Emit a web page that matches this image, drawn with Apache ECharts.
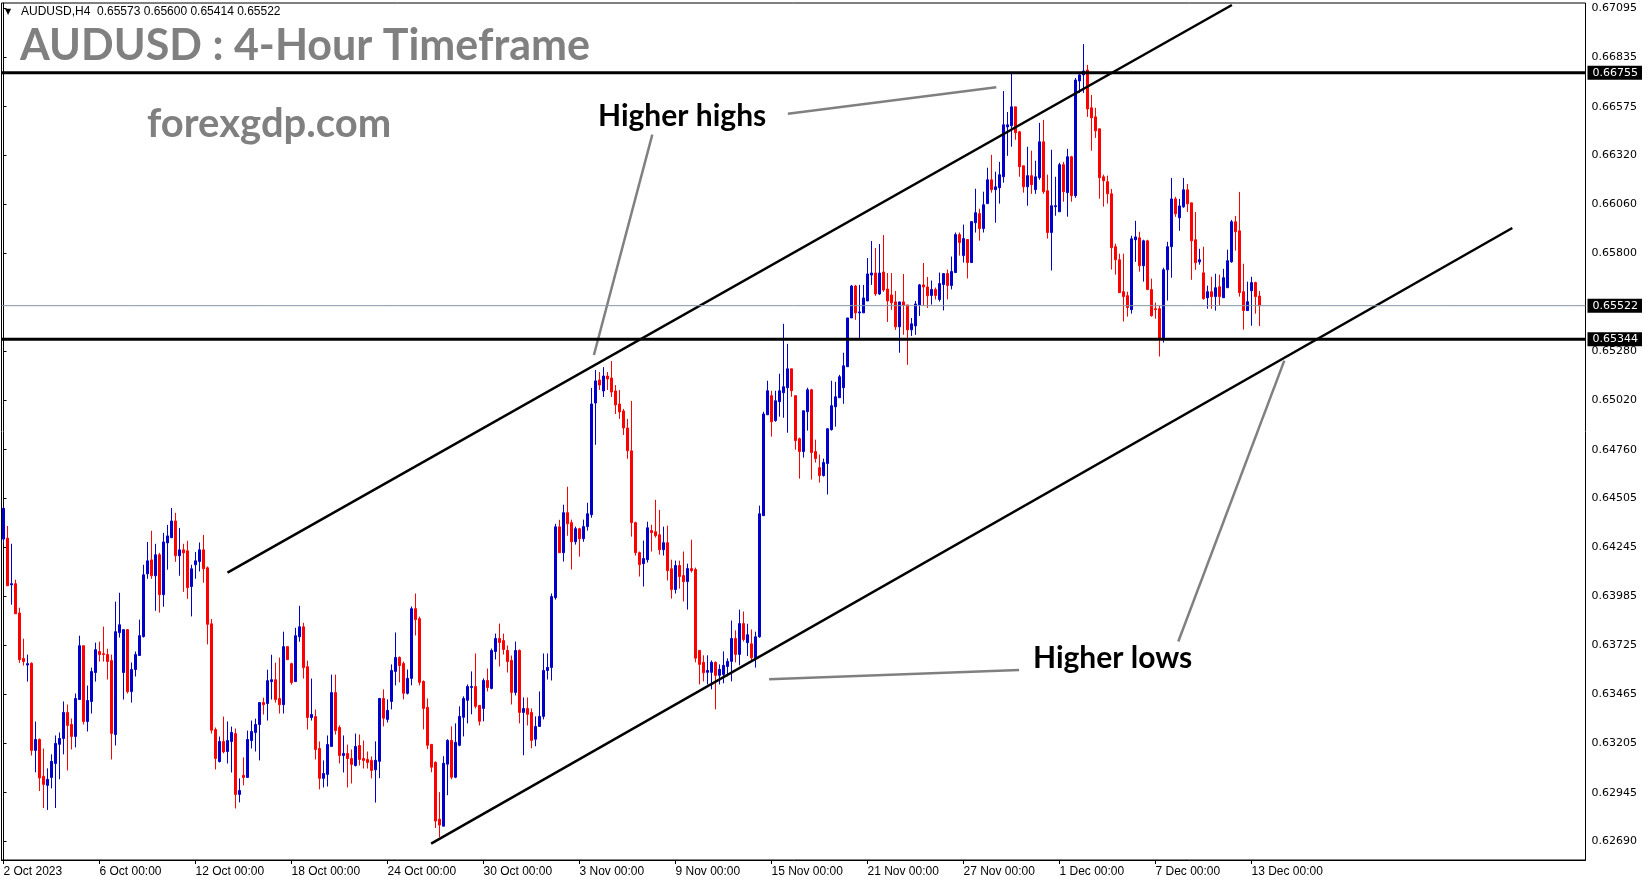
<!DOCTYPE html>
<html><head><meta charset="utf-8">
<script src="https://cdn.jsdelivr.net/npm/echarts@6/dist/echarts.min.js"></script>
<style>html,body{margin:0;padding:0;background:#fff}#c{width:1649px;height:884px}</style>
</head><body><div id="c"></div>
<script>
// ---- Data (one entry per 4-hour candle, 2 Oct 2023 00:00 .. 13 Dec 2023 08:00)
const openP = [
0.64287,0.64292,0.64045,0.64051,0.63896,0.63655,0.63621,0.63630,0.63169,0.63227,
0.63032,0.62984,0.63026,0.63100,0.63201,0.63232,0.63370,0.63306,0.63243,0.63438,
0.63723,0.63322,0.63428,0.63581,0.63692,0.63681,0.63676,0.63644,0.63253,0.63792,
0.63581,0.63808,0.63480,0.63597,0.63671,0.63771,0.64103,0.64177,0.64093,0.64204,
0.63993,0.64267,0.64294,0.64383,0.64199,0.64230,0.64225,0.64036,0.64151,0.64168,
0.64230,0.64135,0.63839,0.63279,0.63110,0.63216,0.63163,0.63216,0.63258,0.62936,
0.63037,0.63026,0.63221,0.63264,0.63306,0.63422,0.63417,0.63533,0.63543,0.63443,
0.63411,0.63718,0.63628,0.63533,0.63770,0.63823,0.63612,0.63343,0.63348,0.63179,
0.63021,0.63042,0.63190,0.63475,0.63290,0.63142,0.63153,0.63126,0.63089,0.63195,
0.63126,0.63121,0.63116,0.63066,0.63111,0.63444,0.63333,0.63428,0.63587,0.63661,
0.63629,0.63471,0.63550,0.63919,0.63866,0.63534,0.63397,0.63201,0.63106,0.62805,
0.62768,0.63096,0.63222,0.63027,0.63196,0.63344,0.63434,0.63502,0.63507,0.63407,
0.63391,0.63539,0.63497,0.63692,0.63761,0.63750,0.63698,0.63645,0.63476,0.63698,
0.63370,0.63391,0.63370,0.63228,0.63296,0.63349,0.63592,0.63608,0.63977,0.64352,
0.64215,0.64427,0.64374,0.64273,0.64342,0.64289,0.64353,0.64416,0.65007,0.65129,
0.65071,0.65150,0.65139,0.65071,0.65002,0.64965,0.64875,0.64754,0.64374,0.64215,
0.64157,0.64178,0.64332,0.64326,0.64310,0.64231,0.64268,0.64130,0.64020,0.64147,
0.64094,0.64062,0.64131,0.64126,0.63698,0.63635,0.63582,0.63582,0.63635,0.63566,
0.63571,0.63613,0.63640,0.63761,0.63677,0.63840,0.63739,0.63733,0.63659,0.63770,
0.64411,0.64945,0.65046,0.64914,0.65014,0.65061,0.65088,0.65188,0.65046,0.64818,
0.64750,0.64961,0.65077,0.64750,0.64665,0.64623,0.64687,0.64866,0.64987,0.65035,
0.65088,0.65199,0.65457,0.65626,0.65484,0.65484,0.65547,0.65684,0.65695,0.65584,
0.65700,0.65610,0.65579,0.65542,0.65410,0.65542,0.65526,0.65394,0.65415,0.65526,
0.65632,0.65621,0.65576,0.65608,0.65555,0.65634,0.65692,0.65629,0.65697,0.65898,
0.65787,0.65872,0.65750,0.65961,0.66009,0.65930,0.66062,0.66188,0.66136,0.66146,
0.66204,0.66468,0.66474,0.66574,0.66442,0.66262,0.66151,0.66210,0.66136,0.66199,
0.66389,0.66130,0.65909,0.66046,0.66019,0.66268,0.66120,0.66310,0.66104,0.66711,
0.66743,0.66769,0.66569,0.66521,0.66458,0.66204,0.66178,0.66114,0.65834,0.65765,
0.65596,0.65575,0.65501,0.65871,0.65881,0.65733,0.65865,0.65607,0.65506,0.65506,
0.65348,0.65712,0.65834,0.66087,0.65987,0.66045,0.66135,0.66066,0.65871,0.65754,
0.65696,0.65564,0.65596,0.65570,0.65622,0.65564,0.65617,0.65754,0.65966,0.65918,
0.65596,0.65496,0.65601,0.65644,0.65573];
const highP = [
0.64459,0.64357,0.64262,0.64072,0.63924,0.63760,0.63676,0.63635,0.63322,0.63232,
0.63179,0.63074,0.63148,0.63248,0.63264,0.63428,0.63412,0.63338,0.63470,0.63776,
0.63723,0.63512,0.63607,0.63739,0.63744,0.63824,0.63707,0.63676,0.63956,0.64003,
0.63808,0.63811,0.63634,0.63692,0.63861,0.64151,0.64272,0.64331,0.64262,0.64214,
0.64320,0.64362,0.64452,0.64426,0.64346,0.64262,0.64278,0.64151,0.64219,0.64269,
0.64309,0.64142,0.63864,0.63290,0.63242,0.63348,0.63322,0.63295,0.63285,0.63021,
0.63132,0.63274,0.63327,0.63337,0.63422,0.63448,0.63596,0.63675,0.63633,0.63660,
0.63797,0.63718,0.63633,0.63818,0.63934,0.63844,0.63644,0.63549,0.63385,0.63216,
0.63116,0.63248,0.63570,0.63570,0.63301,0.63248,0.63200,0.63174,0.63258,0.63253,
0.63221,0.63163,0.63137,0.63217,0.63444,0.63492,0.63439,0.63624,0.63793,0.63666,
0.63639,0.63597,0.63930,0.63999,0.63877,0.63539,0.63444,0.63201,0.63111,0.62948,
0.63138,0.63228,0.63296,0.63312,0.63402,0.63455,0.63518,0.63587,0.63682,0.63407,
0.63550,0.63602,0.63708,0.63787,0.63840,0.63787,0.63724,0.63671,0.63745,0.63703,
0.63449,0.63449,0.63391,0.63349,0.63481,0.63682,0.63682,0.63999,0.64368,0.64389,
0.64469,0.64564,0.64390,0.64353,0.64347,0.64390,0.64479,0.65087,0.65182,0.65171,
0.65197,0.65171,0.65229,0.65102,0.65076,0.64976,0.64923,0.65018,0.64379,0.64221,
0.64279,0.64379,0.64363,0.64495,0.64442,0.64353,0.64358,0.64178,0.64173,0.64173,
0.64221,0.64157,0.64284,0.64136,0.63698,0.63672,0.63672,0.63645,0.63640,0.63624,
0.63693,0.63656,0.63856,0.63804,0.63914,0.63904,0.63839,0.63809,0.63797,0.64464,
0.64961,0.65125,0.65072,0.65072,0.65162,0.65426,0.65320,0.65188,0.65046,0.64824,
0.64966,0.65088,0.65082,0.64813,0.64734,0.64713,0.64871,0.65125,0.65119,0.65156,
0.65273,0.65457,0.65632,0.65632,0.65632,0.65632,0.65774,0.65864,0.65827,0.65848,
0.65896,0.65695,0.65695,0.65600,0.65542,0.65690,0.65526,0.65457,0.65547,0.65637,
0.65748,0.65674,0.65655,0.65618,0.65697,0.65692,0.65713,0.65782,0.65909,0.65909,
0.65951,0.65872,0.65967,0.66141,0.66035,0.66125,0.66252,0.66320,0.66231,0.66283,
0.66658,0.66547,0.66748,0.66574,0.66447,0.66262,0.66363,0.66342,0.66289,0.66489,
0.66505,0.66215,0.66347,0.66204,0.66278,0.66283,0.66352,0.66315,0.66727,0.66753,
0.66906,0.66796,0.66637,0.66569,0.66458,0.66215,0.66210,0.66140,0.65850,0.65797,
0.65797,0.65596,0.65892,0.65971,0.65913,0.65871,0.65871,0.65665,0.65538,0.65522,
0.65723,0.65860,0.66198,0.66098,0.66087,0.66198,0.66166,0.66066,0.66018,0.65823,
0.65834,0.65628,0.65675,0.65691,0.65686,0.65717,0.65818,0.65976,0.65997,0.66124,
0.65744,0.65649,0.65675,0.65649,0.65600];
const lowP = [
0.64265,0.64040,0.63940,0.63892,0.63632,0.63618,0.63533,0.63142,0.63053,0.62954,
0.62864,0.62854,0.62968,0.62864,0.63016,0.63148,0.63063,0.63174,0.63185,0.63438,
0.63306,0.63269,0.63364,0.63533,0.63639,0.63639,0.63544,0.63121,0.63195,0.63766,
0.63438,0.63470,0.63422,0.63560,0.63671,0.63766,0.64077,0.64077,0.63908,0.63898,
0.63929,0.64125,0.64294,0.64167,0.64093,0.64008,0.63971,0.63878,0.64077,0.64116,
0.64056,0.63730,0.63258,0.63068,0.63105,0.63153,0.63100,0.63052,0.62862,0.62894,
0.62984,0.63026,0.63179,0.63163,0.63116,0.63359,0.63327,0.63438,0.63422,0.63364,
0.63364,0.63649,0.63517,0.63533,0.63744,0.63549,0.63279,0.63327,0.63121,0.62963,
0.62973,0.62978,0.63190,0.63253,0.63100,0.63052,0.62973,0.62994,0.63084,0.63089,
0.63073,0.63073,0.63021,0.62893,0.63022,0.63296,0.63317,0.63386,0.63513,0.63529,
0.63439,0.63465,0.63513,0.63777,0.63513,0.63280,0.63175,0.63053,0.62758,0.62710,
0.62768,0.62932,0.63016,0.63022,0.63191,0.63243,0.63312,0.63360,0.63391,0.63301,
0.63323,0.63481,0.63492,0.63650,0.63613,0.63676,0.63581,0.63412,0.63460,0.63312,
0.63143,0.63301,0.63180,0.63191,0.63296,0.63333,0.63544,0.63539,0.63967,0.64215,
0.64168,0.64305,0.64126,0.64258,0.64194,0.64273,0.64332,0.64400,0.64786,0.65076,
0.65039,0.65076,0.65039,0.64949,0.64923,0.64838,0.64712,0.64300,0.64200,0.64089,
0.64036,0.64163,0.64221,0.64295,0.64205,0.64200,0.64068,0.63972,0.63999,0.64025,
0.63957,0.63914,0.64110,0.63635,0.63518,0.63534,0.63518,0.63492,0.63386,0.63518,
0.63524,0.63561,0.63534,0.63635,0.63619,0.63745,0.63668,0.63642,0.63607,0.63765,
0.64411,0.64945,0.64829,0.64908,0.64935,0.64929,0.64850,0.65040,0.64760,0.64607,
0.64718,0.64861,0.64602,0.64692,0.64586,0.64618,0.64523,0.64861,0.64882,0.65035,
0.65003,0.65199,0.65457,0.65447,0.65346,0.65484,0.65547,0.65632,0.65574,0.65579,
0.65595,0.65436,0.65500,0.65394,0.65273,0.65368,0.65209,0.65362,0.65368,0.65468,
0.65521,0.65510,0.65528,0.65555,0.65544,0.65497,0.65555,0.65608,0.65697,0.65787,
0.65750,0.65666,0.65750,0.65909,0.65866,0.65909,0.66062,0.66120,0.65961,0.66062,
0.66173,0.66315,0.66363,0.66400,0.66204,0.66120,0.66051,0.66114,0.66114,0.66188,
0.66114,0.65877,0.65708,0.65998,0.66019,0.66072,0.65993,0.66072,0.66093,0.66648,
0.66648,0.66521,0.66342,0.66410,0.66088,0.66046,0.66062,0.65713,0.65686,0.65591,
0.65438,0.65464,0.65480,0.65754,0.65702,0.65649,0.65607,0.65464,0.65453,0.65253,
0.65327,0.65549,0.65670,0.65992,0.65918,0.66040,0.66018,0.65659,0.65712,0.65739,
0.65554,0.65506,0.65506,0.65496,0.65522,0.65564,0.65617,0.65749,0.65813,0.65570,
0.65395,0.65496,0.65416,0.65480,0.65414];
const closeP = [
0.64450,0.64040,0.64051,0.63892,0.63649,0.63639,0.63628,0.63169,0.63227,0.63023,
0.62989,0.63016,0.63111,0.63206,0.63232,0.63370,0.63301,0.63243,0.63444,0.63723,
0.63322,0.63433,0.63586,0.63702,0.63676,0.63676,0.63639,0.63259,0.63797,0.63834,
0.63808,0.63480,0.63597,0.63676,0.63776,0.64098,0.64172,0.64093,0.64204,0.63993,
0.64272,0.64304,0.64383,0.64199,0.64230,0.64214,0.64030,0.64130,0.64172,0.64230,
0.64130,0.63836,0.63276,0.63126,0.63216,0.63161,0.63221,0.63264,0.62936,0.62957,
0.63026,0.63227,0.63269,0.63306,0.63422,0.63411,0.63538,0.63543,0.63438,0.63411,
0.63718,0.63649,0.63528,0.63776,0.63823,0.63607,0.63343,0.63359,0.63174,0.63021,
0.63047,0.63200,0.63475,0.63274,0.63142,0.63153,0.63126,0.63095,0.63190,0.63121,
0.63116,0.63105,0.63063,0.63117,0.63444,0.63339,0.63381,0.63592,0.63661,0.63618,
0.63471,0.63550,0.63919,0.63861,0.63529,0.63391,0.63196,0.63080,0.62795,0.62774,
0.63101,0.63222,0.63027,0.63212,0.63349,0.63444,0.63507,0.63507,0.63402,0.63323,
0.63539,0.63502,0.63698,0.63761,0.63740,0.63703,0.63639,0.63476,0.63698,0.63370,
0.63391,0.63360,0.63222,0.63296,0.63349,0.63592,0.63608,0.63983,0.64352,0.64215,
0.64427,0.64368,0.64273,0.64342,0.64289,0.64353,0.64421,0.65002,0.65124,0.65102,
0.65150,0.65134,0.65065,0.64997,0.64960,0.64875,0.64754,0.64374,0.64215,0.64152,
0.64184,0.64347,0.64321,0.64305,0.64231,0.64268,0.64120,0.64020,0.64147,0.64089,
0.64062,0.64131,0.64120,0.63657,0.63624,0.63580,0.63592,0.63635,0.63566,0.63598,
0.63619,0.63640,0.63761,0.63677,0.63840,0.63756,0.63781,0.63659,0.63770,0.64421,
0.64949,0.65072,0.64908,0.65019,0.65072,0.65093,0.65188,0.65072,0.64808,0.64750,
0.64966,0.65077,0.64745,0.64713,0.64623,0.64692,0.64871,0.64993,0.65040,0.65146,
0.65204,0.65457,0.65626,0.65484,0.65489,0.65563,0.65690,0.65695,0.65584,0.65695,
0.65605,0.65547,0.65537,0.65410,0.65542,0.65524,0.65394,0.65426,0.65531,0.65632,
0.65621,0.65574,0.65608,0.65576,0.65639,0.65692,0.65629,0.65703,0.65898,0.65856,
0.65877,0.65750,0.65967,0.66014,0.65930,0.66056,0.66188,0.66136,0.66151,0.66215,
0.66479,0.66479,0.66574,0.66437,0.66257,0.66151,0.66210,0.66162,0.66204,0.66389,
0.66125,0.65909,0.66051,0.66051,0.66268,0.66125,0.66310,0.66104,0.66716,0.66743,
0.66764,0.66563,0.66516,0.66447,0.66199,0.66183,0.66114,0.65829,0.65765,0.65591,
0.65570,0.65512,0.65876,0.65886,0.65733,0.65865,0.65607,0.65469,0.65501,0.65348,
0.65712,0.65834,0.66087,0.66008,0.66050,0.66135,0.66061,0.65865,0.65749,0.65765,
0.65559,0.65596,0.65570,0.65617,0.65570,0.65670,0.65760,0.65966,0.65913,0.65591,
0.65496,0.65543,0.65644,0.65570,0.65522];

const xTickLabels = ['2 Oct 2023','6 Oct 00:00','12 Oct 00:00','18 Oct 00:00','24 Oct 00:00','30 Oct 00:00',
  '3 Nov 00:00','9 Nov 00:00','15 Nov 00:00','21 Nov 00:00','27 Nov 00:00','1 Dec 00:00','7 Dec 00:00','13 Dec 00:00'];
const candlesPerLabel = 24;
const yTickValues = [0.62690,0.62945,0.63205,0.63465,0.63725,0.63985,0.64245,0.64505,0.64760,
  0.65020,0.65280,0.65800,0.66060,0.66320,0.66575,0.66835,0.67095];
const resistanceLevel = 0.66755;
const supportLevel = 0.65344;
const bidLevel = 0.65522;
const headerText = 'AUDUSD,H4  0.65573 0.65600 0.65414 0.65522';
// trend-line anchor points as [candle index, price]
const upperChannel = [[56.0, 0.64110], [307.1, 0.67113]];
const lowerChannel = [[106.9, 0.62676], [377.2, 0.65933]];
const higherHighsPointerA = [[162.2, 0.66427], [147.6, 0.65261]];
const higherHighsPointerB = [[196.1, 0.66538], [248.2, 0.66678]];
const higherLowsPointerA = [[191.4, 0.63545], [253.9, 0.63595]];
const higherLowsPointerB = [[293.7, 0.63745], [320.2, 0.65231]];

// ---- build chart
const SLOTS = 396;
const categories = [];
for (let i = 0; i < SLOTS; i++) categories.push(String(i));
const candles = openP.map((o, i) => [o, closeP[i], lowP[i], highP[i]]);
const showTick = (i) => i % candlesPerLabel === 0 && i / candlesPerLabel < xTickLabels.length;

const BLUE = '#0000CD', RED = '#FF0000';
function lineSeries(pts, color, width) {
  return { type: 'line', xAxisIndex: 1, yAxisIndex: 0, data: pts, symbol: 'none', silent: true,
    lineStyle: { color: color, width: width }, z: 6, animation: false };
}
function levelSeries(level, color, width) {
  const s = lineSeries([[-0.5, level], [SLOTS - 0.5, level]], color, width);
  s.endLabel = { show: true, distance: 2, formatter: level.toFixed(5),
    backgroundColor: '#000', color: '#fff', fontFamily: 'DejaVu Sans', fontSize: 11,
    padding: [2, 4, 1, 5] };
  s.z = 7;
  return s;
}

const chart = echarts.init(document.getElementById('c'), null, { renderer: 'canvas' });
chart.setOption({
  animation: false,
  backgroundColor: '#fff',
  grid: { left: 1.5, right: 63.5, top: 3, bottom: 24, show: true, borderColor: '#000', borderWidth: 1 },
  xAxis: [{
    type: 'category', data: categories, boundaryGap: true,
    axisLine: { show: true, lineStyle: { color: '#000', width: 1 } },
    axisTick: { show: true, alignWithLabel: true, interval: showTick, length: 4, lineStyle: { color: '#000' } },
    axisLabel: { show: true, interval: showTick, align: 'left', margin: 6, color: '#000',
      fontFamily: 'Liberation Sans', fontSize: 12,
      formatter: (v, idx) => xTickLabels[idx / candlesPerLabel] || '' },
    splitLine: { show: false }
  }, {
    type: 'value', min: -0.5, max: SLOTS - 0.5, show: false
  }],
  yAxis: [{
    type: 'value', position: 'right', min: 0.625891, max: 0.671235, scale: true,
    axisLine: { show: true, lineStyle: { color: '#000', width: 1 } },
    axisTick: { show: true, customValues: yTickValues, length: 3, lineStyle: { color: '#000' } },
    axisLabel: { show: true, customValues: yTickValues, margin: 6, color: '#000',
      fontFamily: 'DejaVu Sans', fontSize: 11, formatter: (v) => v.toFixed(5) },
    splitLine: { show: false }
  }],
  series: [{
    type: 'candlestick', data: candles, barWidth: 2,
    itemStyle: { color: BLUE, color0: RED, borderColor: BLUE, borderColor0: RED, borderWidth: 1 }
  },
    levelSeries(bidLevel, '#8795a3', 1),
    levelSeries(resistanceLevel, '#000', 3),
    levelSeries(supportLevel, '#000', 3),
    lineSeries(upperChannel, '#000', 2.5),
    lineSeries(lowerChannel, '#000', 2.5),
    lineSeries(higherHighsPointerA, '#808080', 2.5),
    lineSeries(higherHighsPointerB, '#808080', 2.5),
    lineSeries(higherLowsPointerA, '#808080', 2.5),
    lineSeries(higherLowsPointerB, '#808080', 2.5)
  ],
  graphic: [
    { type: 'text', x: 5, y: 12, style: { text: '▼', fontSize: 8, fontFamily: 'DejaVu Sans', fill: '#000', verticalAlign: 'middle' } },
    { type: 'text', x: 21, y: 12, style: { text: headerText, fontSize: 12, fontFamily: 'Liberation Sans', fill: '#000', verticalAlign: 'middle' } },
    { type: 'text', x: 20, y: 46, style: { text: 'AUDUSD : 4-Hour Timeframe', fontSize: 43, fontWeight: 'bold', fontFamily: 'Lato', fill: '#808080', verticalAlign: 'middle' } },
    { type: 'text', x: 147, y: 124, style: { text: 'forexgdp.com', fontSize: 40, fontWeight: 'bold', fontFamily: 'Lato', fill: '#808080', verticalAlign: 'middle' } },
    { type: 'text', x: 598, y: 116, style: { text: 'Higher highs', fontSize: 30, fontWeight: 'bold', fontFamily: 'Lato', fill: '#000', verticalAlign: 'middle' } },
    { type: 'text', x: 1033, y: 658, style: { text: 'Higher lows', fontSize: 30, fontWeight: 'bold', fontFamily: 'Lato', fill: '#000', verticalAlign: 'middle' } }
  ]
});
</script>
</body></html>
